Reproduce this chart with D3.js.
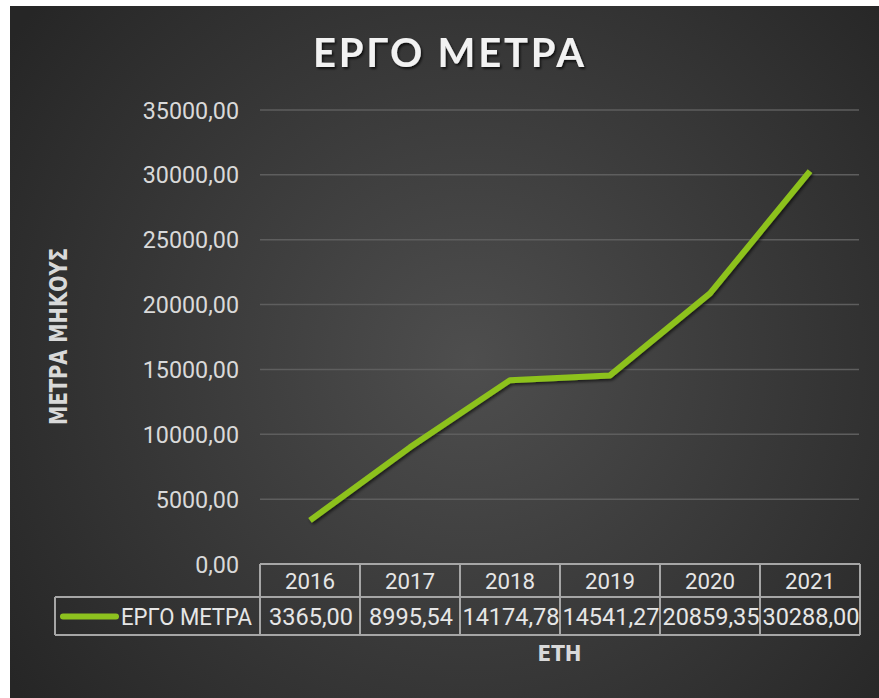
<!DOCTYPE html>
<html><head><meta charset="utf-8">
<script src="https://cdn.jsdelivr.net/npm/d3@7"></script>
<style>
html,body{margin:0;padding:0;background:#fff;}
svg{display:block;}
</style></head>
<body>
<script>
const title = "ΕΡΓΟ ΜΕΤΡΑ";
const seriesName = "ΕΡΓΟ ΜΕΤΡΑ";
const years = ["2016","2017","2018","2019","2020","2021"];
const values = [3365.00, 8995.54, 14174.78, 14541.27, 20859.35, 30288.00];
const valueLabels = ["3365,00","8995,54","14174,78","14541,27","20859,35","30288,00"];
const yTicks = [0,5000,10000,15000,20000,25000,30000,35000];
const xTitle = "ΕΤΗ";
const yTitle = "ΜΕΤΡΑ ΜΗΚΟΥΣ";

const W = 879, H = 698;
const svg = d3.select("body").append("svg").attr("width", W).attr("height", H);
const defs = svg.append("defs");
const rg = defs.append("radialGradient").attr("id","bg")
  .attr("gradientUnits","userSpaceOnUse").attr("cx",470).attr("cy",360).attr("r",560);
rg.append("stop").attr("offset","0%").attr("stop-color","#4e4e4e");
rg.append("stop").attr("offset","100%").attr("stop-color","#262626");
const sh = defs.append("filter").attr("id","sh").attr("x","-10%").attr("y","-10%").attr("width","120%").attr("height","130%");
sh.append("feDropShadow").attr("dx",1.5).attr("dy",2).attr("stdDeviation",1.5).attr("flood-color","#000").attr("flood-opacity",0.6);
const tsh = defs.append("filter").attr("id","tsh").attr("x","-10%").attr("y","-20%").attr("width","120%").attr("height","150%");
tsh.append("feDropShadow").attr("dx",1.5).attr("dy",2).attr("stdDeviation",1.2).attr("flood-color","#000").attr("flood-opacity",0.7);

svg.append("rect").attr("x",10).attr("y",6).attr("width",W-10).attr("height",H-6).attr("fill","url(#bg)");

const x = d3.scaleBand().domain(years).range([260, 860]).padding(0);
const y = d3.scaleLinear().domain([0, 35000]).range([564, 110]);

// gridlines
svg.append("g").selectAll("line").data(yTicks.filter(d=>d>0)).join("line")
  .attr("x1",260).attr("x2",859).attr("y1",d=>y(d)).attr("y2",d=>y(d))
  .attr("stroke","#5e5e5e").attr("stroke-width",1.5);

// y tick labels
const fmt = d => d3.format(".2f")(d).replace(".", ",");
svg.append("g").selectAll("text").data(yTicks).join("text")
  .attr("x",239).attr("y",d=>y(d)+8.5).attr("text-anchor","end")
  .attr("font-family","Roboto").attr("font-size",23.3).attr("fill","#d9d9d9")
  .text(d=>fmt(d));

// title
svg.append("text").attr("x",448.5).attr("y",67).attr("text-anchor","middle")
  .attr("font-family","Lato").attr("font-weight","bold").attr("font-size",40)
  .attr("fill","#f2f2f2").attr("textLength",271).attr("lengthAdjust","spacing")
  .attr("filter","url(#tsh)").text(title);

// axis titles
svg.append("text").attr("x",559.5).attr("y",661).attr("text-anchor","middle")
  .attr("font-family","DejaVu Sans").attr("font-weight","bold").attr("font-size",20.5)
  .attr("textLength",44).attr("lengthAdjust","spacingAndGlyphs")
  .attr("fill","#d9d9d9").text(xTitle);
svg.append("text").attr("transform","translate(67,336.5) rotate(-90)").attr("text-anchor","middle")
  .attr("font-family","DejaVu Sans").attr("font-weight","bold").attr("font-size",25)
  .attr("textLength",177).attr("lengthAdjust","spacingAndGlyphs")
  .attr("fill","#d9d9d9").text(yTitle);

// line
const line = d3.line().x((d,i)=>x(years[i])+x.bandwidth()/2).y(d=>y(d));
svg.append("path").datum(values).attr("d",line).attr("fill","none")
  .attr("stroke","#8dc21f").attr("stroke-width",6).attr("stroke-linejoin","round")
  .attr("filter","url(#sh)");

// data table
const rowTop = 564, rowMid = 597, rowBot = 635, legLeft = 55;
const tg = svg.append("g").attr("stroke","#a6a6a6").attr("stroke-width",2).attr("fill","none");
tg.append("line").attr("x1",260).attr("x2",860).attr("y1",rowTop).attr("y2",rowTop);
tg.append("line").attr("x1",legLeft).attr("x2",860).attr("y1",rowMid).attr("y2",rowMid);
tg.append("line").attr("x1",legLeft).attr("x2",860).attr("y1",rowBot).attr("y2",rowBot);
tg.append("line").attr("x1",legLeft).attr("x2",legLeft).attr("y1",rowMid).attr("y2",rowBot);
tg.selectAll("line.v").data(years.concat(["end"])).join("line").attr("class","v")
  .attr("x1",(d,i)=>i<years.length?x(d):x(years[years.length-1])+x.bandwidth())
  .attr("x2",(d,i)=>i<years.length?x(d):x(years[years.length-1])+x.bandwidth())
  .attr("y1",rowTop).attr("y2",rowBot);

svg.append("g").selectAll("text").data(years).join("text")
  .attr("x",d=>x(d)+x.bandwidth()/2).attr("y",589).attr("text-anchor","middle")
  .attr("font-family","Roboto").attr("font-size",22.3).attr("fill","#e6e6e6").text(d=>d);
svg.append("g").selectAll("text").data(valueLabels).join("text")
  .attr("x",(d,i)=>x(years[i])+x.bandwidth()/2+1).attr("y",625).attr("text-anchor","middle")
  .attr("font-family","Roboto").attr("font-size",23.5).attr("fill","#e6e6e6").text(d=>d);

// legend key
svg.append("line").attr("x1",63).attr("x2",116).attr("y1",616.5).attr("y2",616.5)
  .attr("stroke","#8dc21f").attr("stroke-width",6).attr("stroke-linecap","round");
svg.append("text").attr("x",121).attr("y",625).attr("font-family","Roboto").attr("font-size",23.5)
  .attr("textLength",131).attr("lengthAdjust","spacingAndGlyphs")
  .attr("fill","#e6e6e6").text(seriesName);
</script>
</body></html>
